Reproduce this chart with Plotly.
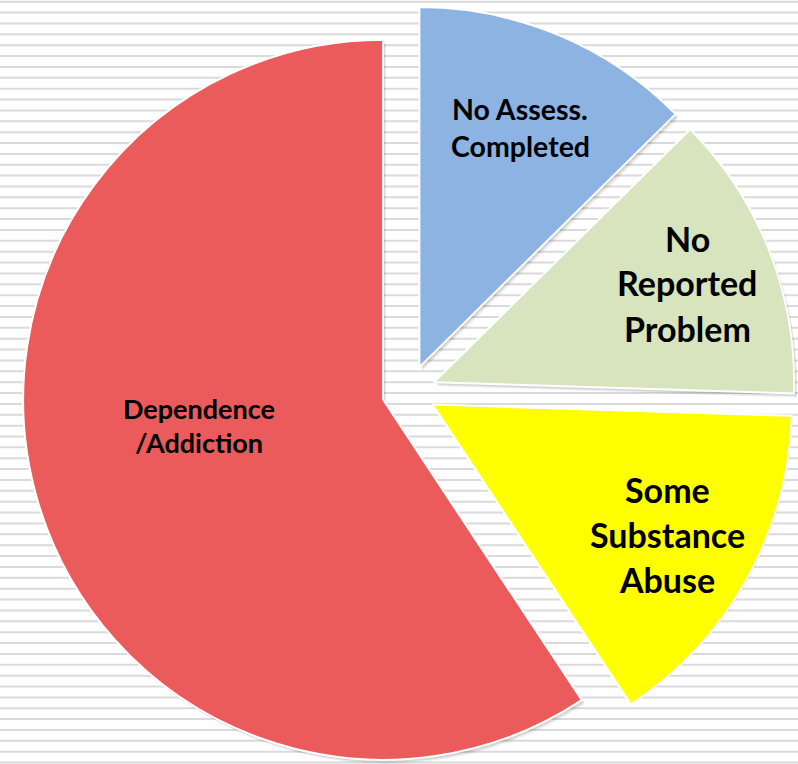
import math
import plotly.graph_objects as go

# Share of cases by substance-use assessment outcome (percent)
categories = ["No Assess. Completed", "No Reported Problem", "Some Substance Abuse", "Dependence /Addiction"]
shares = [12.6, 12.9, 15.2, 59.3]
slice_labels = [["No Assess.", "Completed"], ["No", "Reported", "Problem"],
                ["Some", "Substance", "Abuse"], ["Dependence", "/Addiction"]]

colors = ["#8DB3E2", "#D7E4BD", "#FFFF00", "#EC5B5B"]

W, H = 798, 764
CX, CY = 409, 392      # pie centre before exploding (px)
R = 360                 # pie radius (px)
EXPLODE = 27            # distance each wedge is pushed out (px)

# label placement: (x centre, [line centres]) in px, font size
label_pos = [
    (520, [109, 146], 28.5),
    (687, [238, 283, 329], 34),
    (667, [489, 534, 579], 34),
    (199, [408, 442], 27),
]

fig = go.Figure()

# striped backdrop
STRIPE_STEP = 10.87
y = 1.7
while y < H:
    fig.add_shape(type="line", xref="paper", yref="paper",
                  x0=0, x1=1, y0=1 - y / H, y1=1 - y / H,
                  line=dict(color="#dadada", width=2), layer="below")
    y += STRIPE_STEP


def wedge_trace(i, cx, cy, fill_color, edge_color, edge_width):
    dom_x = [max(0, (cx - R) / W), min(1, (cx + R) / W)]
    dom_y = [max(0, 1 - (cy + R) / H), min(1, 1 - (cy - R) / H)]
    fill = ["rgba(0,0,0,0)"] * len(shares)
    edge = ["rgba(0,0,0,0)"] * len(shares)
    fill[i] = fill_color
    edge[i] = edge_color
    return go.Pie(
        values=shares, labels=categories, sort=False, direction="clockwise",
        rotation=0, textinfo="none", hoverinfo="skip", showlegend=False,
        marker=dict(colors=fill, line=dict(color=edge, width=edge_width)),
        domain=dict(x=dom_x, y=dom_y),
    )


# exploded wedge centres derived from each slice's mid angle
total = sum(shares)
centres = []
start = 0.0
for v in shares:
    span = 360.0 * v / total
    mid = math.radians(start + span / 2)
    start += span
    centres.append((CX + EXPLODE * math.sin(mid), CY - EXPLODE * math.cos(mid)))

# soft drop shadows under each wedge
for dx, dy, alpha in [(3, 4, 0.07), (2, 2.5, 0.10)]:
    for i, (cx, cy) in enumerate(centres):
        fig.add_trace(wedge_trace(i, cx + dx, cy + dy, f"rgba(0,0,0,{alpha})",
                                  "rgba(0,0,0,0)", 0))

for i, (cx, cy) in enumerate(centres):
    fig.add_trace(wedge_trace(i, cx, cy, colors[i], "#ffffff", 2))

for lines, (lx, ly_list, fs) in zip(slice_labels, label_pos):
    for text, ly in zip(lines, ly_list):
        fig.add_annotation(text=text, xref="paper", yref="paper",
                           x=lx / W, y=1 - ly / H, xanchor="center", yanchor="middle",
                           showarrow=False,
                           font=dict(family="Lato", size=fs, color="#000000", weight="bold"))

fig.update_layout(width=W, height=H, margin=dict(l=0, r=0, t=0, b=0),
                  paper_bgcolor="#ffffff", plot_bgcolor="#ffffff", showlegend=False)

fig.write_html("out.html")
